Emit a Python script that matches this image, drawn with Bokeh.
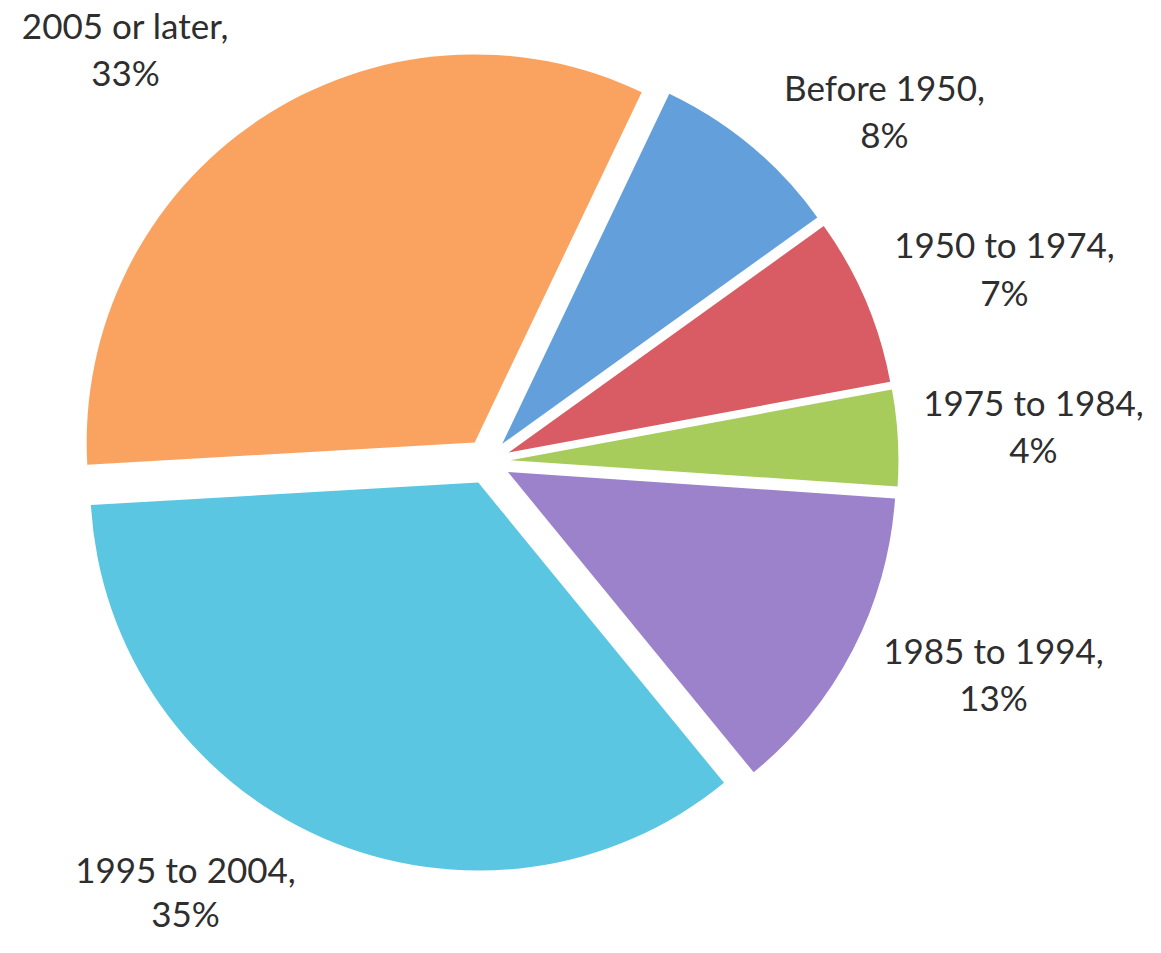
import math
from bokeh.plotting import figure
from bokeh.models import Range1d, ColumnDataSource
from bokeh.core.properties import value
from bokeh.embed import file_html
from bokeh.resources import INLINE

# ---- data ----
categories = ["Before 1950", "1950 to 1974", "1975 to 1984",
              "1985 to 1994", "1995 to 2004", "2005 or later"]
shares = [8, 7, 4, 13, 35, 33]
colors = ["#629FDB", "#D95B64", "#A8CC5C", "#9B82CB", "#5AC6E2", "#FAA360"]

# ---- layout (screen pixel coordinates of the picture) ----
W, H = 1145, 937
PAGE_H = 953
CX, CY = 487, 461          # pie centre
R = 388                    # radius
EXPLODE = 23               # slice offset
START_DEG = 25.5           # first slice starts, clockwise from 12 o'clock

label_x = [884, 1004, 1033, 993, 185, 125]
label_m1 = [86.5, 243.5, 401.5, 649.5, 868, 24.5]   # vertical middle, line 1
label_m2 = [133, 291, 448, 696, 912, 71]            # vertical middle, line 2


def yd(screen_y):
    return PAGE_H - screen_y


total = float(sum(shares))
xs, ys, sa, ea = [], [], [], []
cum = START_DEG
for v in shares:
    a0 = cum
    a1 = cum + v / total * 360.0
    mid = math.radians((a0 + a1) / 2.0)
    xs.append(CX + EXPLODE * math.sin(mid))
    ys.append(yd(CY - EXPLODE * math.cos(mid)))
    sa.append(math.radians(90.0 - a1))
    ea.append(math.radians(90.0 - a0))
    cum = a1

src = ColumnDataSource(dict(x=xs, y=ys, start=sa, end=ea, color=colors))

p = figure(width=W, height=H, output_backend="svg", toolbar_location=None,
           x_range=Range1d(0, W), y_range=Range1d(PAGE_H - H, PAGE_H),
           min_border=0, outline_line_color=None, background_fill_color="white",
           border_fill_color="white")
p.axis.visible = False
p.grid.visible = False

p.wedge(x="x", y="y", radius=R, start_angle="start", end_angle="end",
        direction="anticlock", fill_color="color", line_color=None, source=src)

lab = ColumnDataSource(dict(
    x=label_x,
    y1=[yd(v) for v in label_m1],
    y2=[yd(v) for v in label_m2],
    t1=[c + "," for c in categories],
    t2=[f"{v}%" for v in shares],
))
for ycol, tcol in (("y1", "t1"), ("y2", "t2")):
    p.text(x="x", y=ycol, text=tcol, source=lab, text_align="center",
           text_baseline="middle", text_font=value("Lato"),
           text_font_size=value("35px"), text_color="#2e2e2e")

open("out.html", "w").write(file_html(p, INLINE))
